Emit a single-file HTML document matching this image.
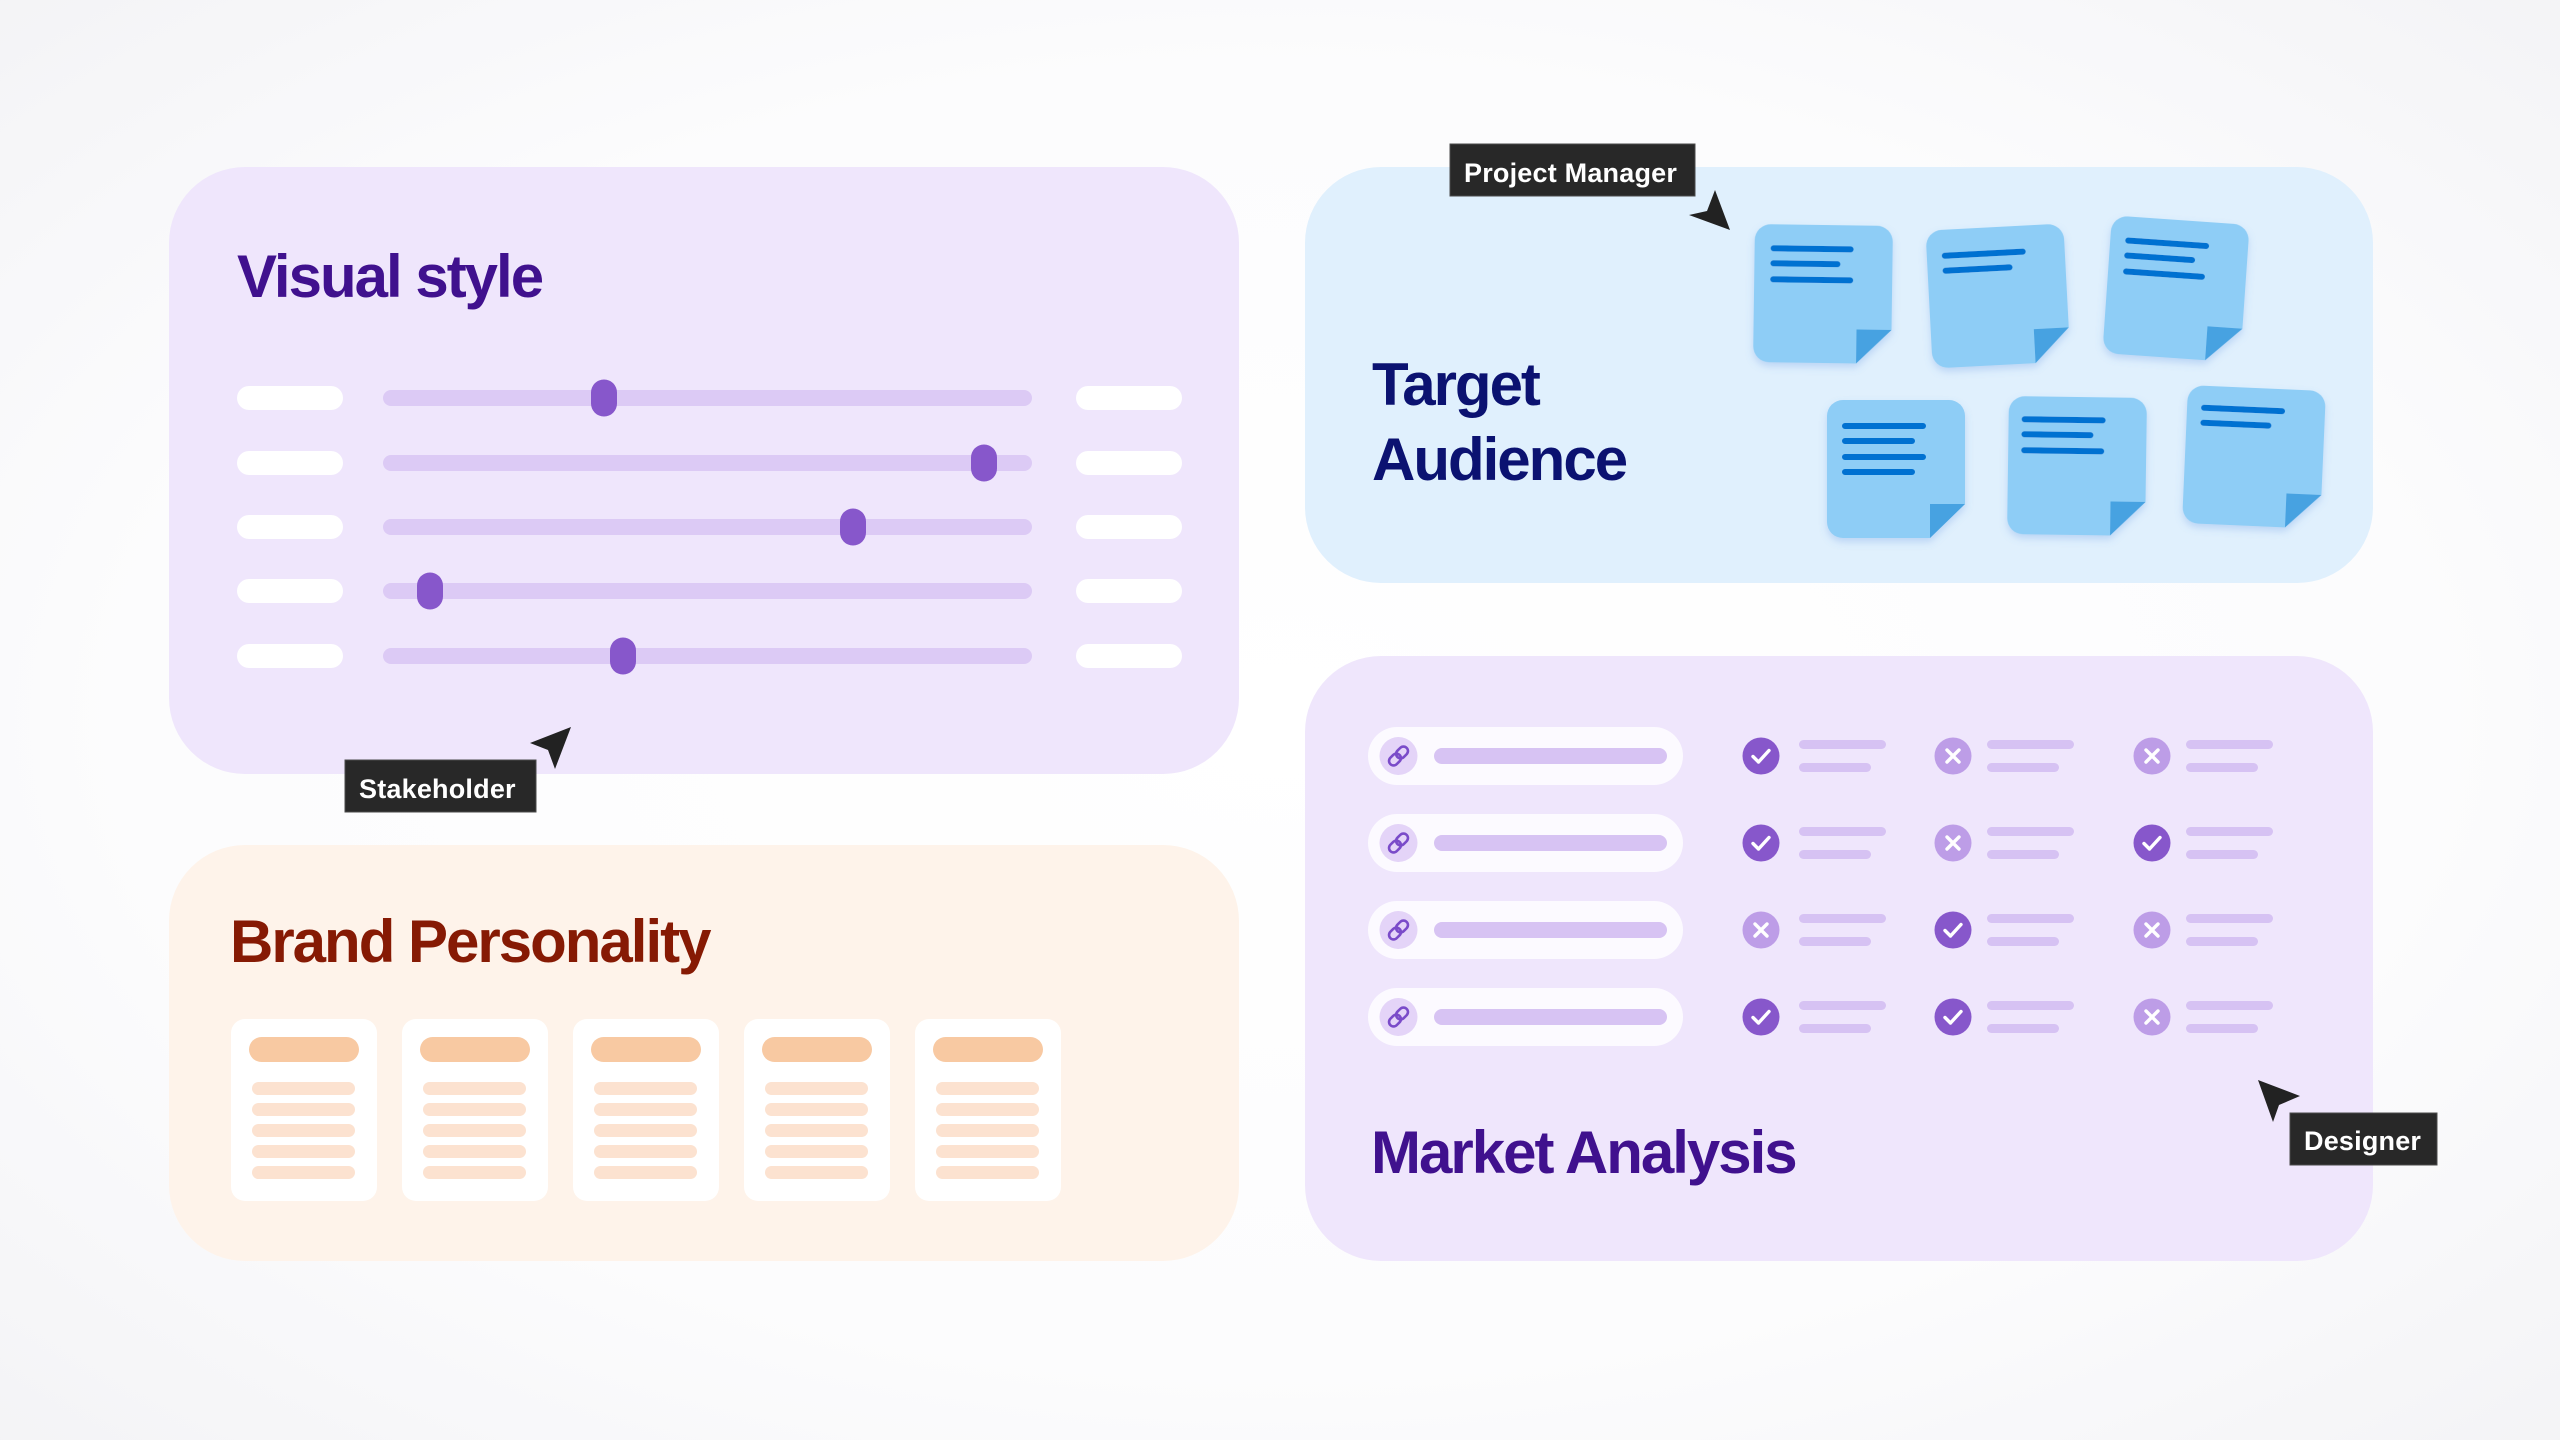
<!DOCTYPE html>
<html>
<head>
<meta charset="utf-8">
<style>
  html,body{margin:0;padding:0;width:2560px;height:1440px;overflow:hidden;background:#fafafc;}
  svg{display:block;}
  .title{font-family:"Liberation Sans",Arial,sans-serif;font-weight:bold;font-size:60px;letter-spacing:-2px;}
  .lbl{font-family:"Liberation Sans",Arial,sans-serif;font-weight:bold;font-size:27px;letter-spacing:0.2px;fill:#ffffff;}
</style>
</head>
<body>
<svg width="2560" height="1440" viewBox="0 0 2560 1440" xmlns="http://www.w3.org/2000/svg">
  <defs>
    <radialGradient id="bg" cx="50%" cy="50%" r="75%">
      <stop offset="0%" stop-color="#ffffff"/>
      <stop offset="60%" stop-color="#fcfcfd"/>
      <stop offset="100%" stop-color="#f2f2f5"/>
    </radialGradient>
    <filter id="ns" x="-20%" y="-20%" width="140%" height="150%">
      <feDropShadow dx="0" dy="4" stdDeviation="4" flood-color="#5a8fe0" flood-opacity="0.28"/>
    </filter>
    <path id="note" d="M16,0 H122 A16,16 0 0 1 138,16 V104 L103,138 H16 A16,16 0 0 1 0,122 V16 A16,16 0 0 1 16,0 Z" fill="#8ecdf6" stroke="none"/>
    <path id="fold" d="M103,104 H138 L103,138 Z" fill="#47a2e1" stroke="none"/>
    <g id="chk"><path d="M-8,0.5 L-2.5,6 L8,-5.5" fill="none" stroke="#fff" stroke-width="3.4" stroke-linecap="round" stroke-linejoin="round"/></g>
    <g id="crs"><path d="M-6,-6 L6,6 M6,-6 L-6,6" fill="none" stroke="#fff" stroke-width="3.4" stroke-linecap="round"/></g>
    <g id="link">
      <g transform="rotate(-45)" fill="none" stroke="#7a4bc9" stroke-width="2.6">
        <rect x="-11.5" y="-4.5" width="13" height="9" rx="4.5"/>
        <rect x="-1.5" y="-4.5" width="13" height="9" rx="4.5"/>
      </g>
    </g>
  </defs>

  <rect x="0" y="0" width="2560" height="1440" fill="url(#bg)"/>

  <!-- Cards -->
  <rect x="169" y="167" width="1070" height="607" rx="76" fill="#efe6fc"/>
  <rect x="1305" y="167" width="1068" height="416" rx="76" fill="#e0f0fd"/>
  <rect x="169" y="845" width="1070" height="416" rx="76" fill="#fef3ea"/>
  <rect x="1305" y="656" width="1068" height="605" rx="76" fill="#efe6fc"/>

  <!-- Visual style -->
  <text class="title" x="237" y="297" fill="#40118e">Visual style</text>
  <g>
    <rect x="237" y="386" width="106" height="24" rx="12" fill="#ffffff"/>
    <rect x="383" y="390" width="649" height="16" rx="8" fill="#dccaf5"/>
    <rect x="1076" y="386" width="106" height="24" rx="12" fill="#ffffff"/>
    <rect x="591" y="379.5" width="26" height="37" rx="13" fill="#8757cb"/>

    <rect x="237" y="451" width="106" height="24" rx="12" fill="#ffffff"/>
    <rect x="383" y="455" width="649" height="16" rx="8" fill="#dccaf5"/>
    <rect x="1076" y="451" width="106" height="24" rx="12" fill="#ffffff"/>
    <rect x="971" y="444.5" width="26" height="37" rx="13" fill="#8757cb"/>

    <rect x="237" y="515" width="106" height="24" rx="12" fill="#ffffff"/>
    <rect x="383" y="519" width="649" height="16" rx="8" fill="#dccaf5"/>
    <rect x="1076" y="515" width="106" height="24" rx="12" fill="#ffffff"/>
    <rect x="840" y="508.5" width="26" height="37" rx="13" fill="#8757cb"/>

    <rect x="237" y="579" width="106" height="24" rx="12" fill="#ffffff"/>
    <rect x="383" y="583" width="649" height="16" rx="8" fill="#dccaf5"/>
    <rect x="1076" y="579" width="106" height="24" rx="12" fill="#ffffff"/>
    <rect x="417" y="572.5" width="26" height="37" rx="13" fill="#8757cb"/>

    <rect x="237" y="644" width="106" height="24" rx="12" fill="#ffffff"/>
    <rect x="383" y="648" width="649" height="16" rx="8" fill="#dccaf5"/>
    <rect x="1076" y="644" width="106" height="24" rx="12" fill="#ffffff"/>
    <rect x="610" y="637.5" width="26" height="37" rx="13" fill="#8757cb"/>
  </g>

  <!-- Stakeholder label + cursor -->
  <rect x="345" y="760" width="191" height="52" fill="#282828" stroke="#4a4a4a" stroke-width="1"/>
  <text class="lbl" x="359" y="798">Stakeholder</text>
  <polygon points="571,727 530,743 548,750 555,769" fill="#222222"/>

  <!-- Target Audience -->
  <text class="title" x="1372" y="405" fill="#0b1271">Target</text>
  <text class="title" x="1372" y="480" fill="#0b1271">Audience</text>

  <g>
    <g transform="translate(1823,294) rotate(0.8) translate(-69,-69)" filter="url(#ns)">
      <use href="#note"/><use href="#fold"/>
      <path d="M19,24 H96 M19,39 H83 M19,55 H96" fill="none" stroke="#0471d1" stroke-width="6" stroke-linecap="round"/>
    </g>
    <g transform="translate(1998,296) rotate(-3) translate(-69,-69)" filter="url(#ns)">
      <use href="#note"/><use href="#fold"/>
      <path d="M18,26 H96 M18,41 H82" fill="none" stroke="#0471d1" stroke-width="6" stroke-linecap="round"/>
    </g>
    <g transform="translate(2176,289) rotate(4) translate(-69,-69)" filter="url(#ns)">
      <use href="#note"/><use href="#fold"/>
      <path d="M18,24 H96 M18,39 H83 M18,55 H94" fill="none" stroke="#0471d1" stroke-width="6" stroke-linecap="round"/>
    </g>
    <g transform="translate(1896,469) translate(-69,-69)" filter="url(#ns)">
      <use href="#note"/><use href="#fold"/>
      <path d="M18,26 H96 M18,41 H85 M18,57 H96 M18,72 H85" fill="none" stroke="#0471d1" stroke-width="6" stroke-linecap="round"/>
    </g>
    <g transform="translate(2077,466) rotate(0.8) translate(-69,-69)" filter="url(#ns)">
      <use href="#note"/><use href="#fold"/>
      <path d="M16,23 H94 M16,38 H82 M16,54 H93" fill="none" stroke="#0471d1" stroke-width="6" stroke-linecap="round"/>
    </g>
    <g transform="translate(2254,457) rotate(2.5) translate(-69,-69)" filter="url(#ns)">
      <use href="#note"/><use href="#fold"/>
      <path d="M17,22 H95 M17,37 H82" fill="none" stroke="#0471d1" stroke-width="6" stroke-linecap="round"/>
    </g>
  </g>

  <!-- Project Manager label + cursor -->
  <rect x="1450" y="144" width="245" height="52" fill="#282828" stroke="#4a4a4a" stroke-width="1"/>
  <text class="lbl" x="1464" y="182">Project Manager</text>
  <polygon points="1730,230 1715,190 1707,211 1689,215" fill="#222222"/>

  <!-- Brand Personality -->
  <text class="title" x="230" y="962" fill="#861a04">Brand Personality</text>
  <g>
    <g transform="translate(231,0)">
      <rect x="0" y="1019" width="146" height="182" rx="14" fill="#ffffff"/>
      <rect x="18" y="1037" width="110" height="25" rx="12.5" fill="#f8c9a2"/>
      <g fill="#fce2d0">
        <rect x="21" y="1082" width="103" height="13" rx="6.5"/>
        <rect x="21" y="1103" width="103" height="13" rx="6.5"/>
        <rect x="21" y="1124" width="103" height="13" rx="6.5"/>
        <rect x="21" y="1145" width="103" height="13" rx="6.5"/>
        <rect x="21" y="1166" width="103" height="13" rx="6.5"/>
      </g>
    </g>
    <g transform="translate(402,0)">
      <rect x="0" y="1019" width="146" height="182" rx="14" fill="#ffffff"/>
      <rect x="18" y="1037" width="110" height="25" rx="12.5" fill="#f8c9a2"/>
      <g fill="#fce2d0">
        <rect x="21" y="1082" width="103" height="13" rx="6.5"/>
        <rect x="21" y="1103" width="103" height="13" rx="6.5"/>
        <rect x="21" y="1124" width="103" height="13" rx="6.5"/>
        <rect x="21" y="1145" width="103" height="13" rx="6.5"/>
        <rect x="21" y="1166" width="103" height="13" rx="6.5"/>
      </g>
    </g>
    <g transform="translate(573,0)">
      <rect x="0" y="1019" width="146" height="182" rx="14" fill="#ffffff"/>
      <rect x="18" y="1037" width="110" height="25" rx="12.5" fill="#f8c9a2"/>
      <g fill="#fce2d0">
        <rect x="21" y="1082" width="103" height="13" rx="6.5"/>
        <rect x="21" y="1103" width="103" height="13" rx="6.5"/>
        <rect x="21" y="1124" width="103" height="13" rx="6.5"/>
        <rect x="21" y="1145" width="103" height="13" rx="6.5"/>
        <rect x="21" y="1166" width="103" height="13" rx="6.5"/>
      </g>
    </g>
    <g transform="translate(744,0)">
      <rect x="0" y="1019" width="146" height="182" rx="14" fill="#ffffff"/>
      <rect x="18" y="1037" width="110" height="25" rx="12.5" fill="#f8c9a2"/>
      <g fill="#fce2d0">
        <rect x="21" y="1082" width="103" height="13" rx="6.5"/>
        <rect x="21" y="1103" width="103" height="13" rx="6.5"/>
        <rect x="21" y="1124" width="103" height="13" rx="6.5"/>
        <rect x="21" y="1145" width="103" height="13" rx="6.5"/>
        <rect x="21" y="1166" width="103" height="13" rx="6.5"/>
      </g>
    </g>
    <g transform="translate(915,0)">
      <rect x="0" y="1019" width="146" height="182" rx="14" fill="#ffffff"/>
      <rect x="18" y="1037" width="110" height="25" rx="12.5" fill="#f8c9a2"/>
      <g fill="#fce2d0">
        <rect x="21" y="1082" width="103" height="13" rx="6.5"/>
        <rect x="21" y="1103" width="103" height="13" rx="6.5"/>
        <rect x="21" y="1124" width="103" height="13" rx="6.5"/>
        <rect x="21" y="1145" width="103" height="13" rx="6.5"/>
        <rect x="21" y="1166" width="103" height="13" rx="6.5"/>
      </g>
    </g>
  </g>

  <!-- Market Analysis -->
  <g>
    <g fill="#fcfaff">
      <rect x="1368" y="727" width="315" height="58" rx="29"/>
      <rect x="1368" y="814" width="315" height="58" rx="29"/>
      <rect x="1368" y="901" width="315" height="58" rx="29"/>
      <rect x="1368" y="988" width="315" height="58" rx="29"/>
    </g>
    <g fill="#e4d4f8">
      <circle cx="1398.5" cy="756" r="19"/>
      <circle cx="1398.5" cy="843" r="19"/>
      <circle cx="1398.5" cy="930" r="19"/>
      <circle cx="1398.5" cy="1017" r="19"/>
    </g>
    <use href="#link" transform="translate(1398.5,756)"/>
    <use href="#link" transform="translate(1398.5,843)"/>
    <use href="#link" transform="translate(1398.5,930)"/>
    <use href="#link" transform="translate(1398.5,1017)"/>
    <g fill="#d7c3f3">
      <rect x="1434" y="748" width="233" height="16" rx="8"/>
      <rect x="1434" y="835" width="233" height="16" rx="8"/>
      <rect x="1434" y="922" width="233" height="16" rx="8"/>
      <rect x="1434" y="1009" width="233" height="16" rx="8"/>
    </g>

    <g fill="#d6c2f3">
      <rect x="1799" y="740" width="87" height="9" rx="4.5"/><rect x="1799" y="763" width="72" height="9" rx="4.5"/>
      <rect x="1987" y="740" width="87" height="9" rx="4.5"/><rect x="1987" y="763" width="72" height="9" rx="4.5"/>
      <rect x="2186" y="740" width="87" height="9" rx="4.5"/><rect x="2186" y="763" width="72" height="9" rx="4.5"/>

      <rect x="1799" y="827" width="87" height="9" rx="4.5"/><rect x="1799" y="850" width="72" height="9" rx="4.5"/>
      <rect x="1987" y="827" width="87" height="9" rx="4.5"/><rect x="1987" y="850" width="72" height="9" rx="4.5"/>
      <rect x="2186" y="827" width="87" height="9" rx="4.5"/><rect x="2186" y="850" width="72" height="9" rx="4.5"/>

      <rect x="1799" y="914" width="87" height="9" rx="4.5"/><rect x="1799" y="937" width="72" height="9" rx="4.5"/>
      <rect x="1987" y="914" width="87" height="9" rx="4.5"/><rect x="1987" y="937" width="72" height="9" rx="4.5"/>
      <rect x="2186" y="914" width="87" height="9" rx="4.5"/><rect x="2186" y="937" width="72" height="9" rx="4.5"/>

      <rect x="1799" y="1001" width="87" height="9" rx="4.5"/><rect x="1799" y="1024" width="72" height="9" rx="4.5"/>
      <rect x="1987" y="1001" width="87" height="9" rx="4.5"/><rect x="1987" y="1024" width="72" height="9" rx="4.5"/>
      <rect x="2186" y="1001" width="87" height="9" rx="4.5"/><rect x="2186" y="1024" width="72" height="9" rx="4.5"/>
    </g>

    <circle cx="1761" cy="756" r="18.5" fill="#8757cb"/><use href="#chk" transform="translate(1761,756)"/>
    <circle cx="1953" cy="756" r="18.5" fill="#bd9de7"/><use href="#crs" transform="translate(1953,756)"/>
    <circle cx="2152" cy="756" r="18.5" fill="#bd9de7"/><use href="#crs" transform="translate(2152,756)"/>

    <circle cx="1761" cy="843" r="18.5" fill="#8757cb"/><use href="#chk" transform="translate(1761,843)"/>
    <circle cx="1953" cy="843" r="18.5" fill="#bd9de7"/><use href="#crs" transform="translate(1953,843)"/>
    <circle cx="2152" cy="843" r="18.5" fill="#8757cb"/><use href="#chk" transform="translate(2152,843)"/>

    <circle cx="1761" cy="930" r="18.5" fill="#bd9de7"/><use href="#crs" transform="translate(1761,930)"/>
    <circle cx="1953" cy="930" r="18.5" fill="#8757cb"/><use href="#chk" transform="translate(1953,930)"/>
    <circle cx="2152" cy="930" r="18.5" fill="#bd9de7"/><use href="#crs" transform="translate(2152,930)"/>

    <circle cx="1761" cy="1017" r="18.5" fill="#8757cb"/><use href="#chk" transform="translate(1761,1017)"/>
    <circle cx="1953" cy="1017" r="18.5" fill="#8757cb"/><use href="#chk" transform="translate(1953,1017)"/>
    <circle cx="2152" cy="1017" r="18.5" fill="#bd9de7"/><use href="#crs" transform="translate(2152,1017)"/>
  </g>
  <text class="title" x="1371" y="1173" fill="#40118e">Market Analysis</text>

  <!-- Designer label + cursor -->
  <polygon points="2258,1080 2300,1096 2279,1105 2273,1122" fill="#222222"/>
  <rect x="2290" y="1113" width="147" height="52" fill="#282828" stroke="#4a4a4a" stroke-width="1"/>
  <text class="lbl" x="2304" y="1150">Designer</text>
</svg>
</body>
</html>
